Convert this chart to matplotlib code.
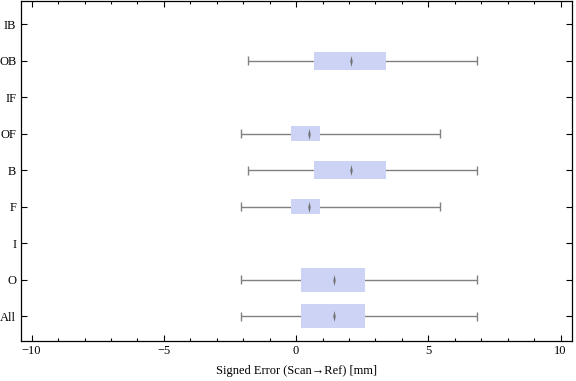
import matplotlib.pyplot as plt
from matplotlib.ticker import MultipleLocator

# categories from bottom to top
categories = ["All", "O", "I", "F", "B", "OF", "IF", "OB", "IB"]

# box-whisker stats per category (None = no data)
whisker_lo = [-2.09, -2.09, None, -2.09, -1.81, -2.09, None, -1.81, None]
q1 = [0.19, 0.19, None, -0.19, 0.69, -0.19, None, 0.69, None]
median = [1.43, 1.43, None, 0.49, 2.09, 0.49, None, 2.09, None]
q3 = [2.60, 2.60, None, 0.90, 3.40, 0.90, None, 3.40, None]
whisker_hi = [6.85, 6.85, None, 5.45, 6.85, 5.45, None, 6.85, None]
box_height = [0.65, 0.65, 0, 0.41, 0.5, 0.41, 0, 0.5, 0]

plt.rcParams["font.family"] = ["Liberation Serif", "DejaVu Serif"]

fig = plt.figure(figsize=(5.76, 3.81), dpi=100)
ax = fig.add_axes([0.0356, 0.105, 0.957, 0.893])

box_color = "#cdd3f5"
line_color = "#808080"
# thin vertical diamond used as the median mark
median_marker = [(0, -1), (0.22, 0), (0, 1), (-0.22, 0), (0, -1)]

for i, cat in enumerate(categories):
    y = i + 1
    if median[i] is None:
        continue
    ax.hlines(y, whisker_lo[i], whisker_hi[i], color=line_color, lw=1.0, zorder=1)
    ax.vlines([whisker_lo[i], whisker_hi[i]], y - 0.12, y + 0.12,
              color=line_color, lw=1.0, zorder=1)
    ax.barh(y, q3[i] - q1[i], left=q1[i], height=box_height[i],
            color=box_color, edgecolor="none", zorder=2)
    ax.plot([median[i]], [y], marker=median_marker, markersize=8, markeredgewidth=0,
            color="#707070", zorder=3)

ax.set_xlim(-10.42, 10.42)
ax.set_ylim(0.32, 9.64)
ax.set_yticks(range(1, len(categories) + 1))
ax.set_yticklabels(categories)
ax.xaxis.set_minor_locator(MultipleLocator(1))
ax.set_xticks([-10, -5, 0, 5, 10])
ax.set_xticklabels(["\u221210", "\u22125", "0", "5", "10"])

ax.tick_params(axis="both", which="both", direction="in", top=True, right=True,
               labelsize=9, width=0.8, pad=3)
ax.tick_params(axis="x", which="major", length=4)
ax.tick_params(axis="x", which="minor", length=2)
ax.tick_params(axis="y", which="major", length=4)
for s in ax.spines.values():
    s.set_linewidth(0.9)

ax.set_xlabel("Signed Error (Scan\u2192Ref) [mm]", fontsize=9, labelpad=6)

fig.savefig("out.png", dpi=100)
